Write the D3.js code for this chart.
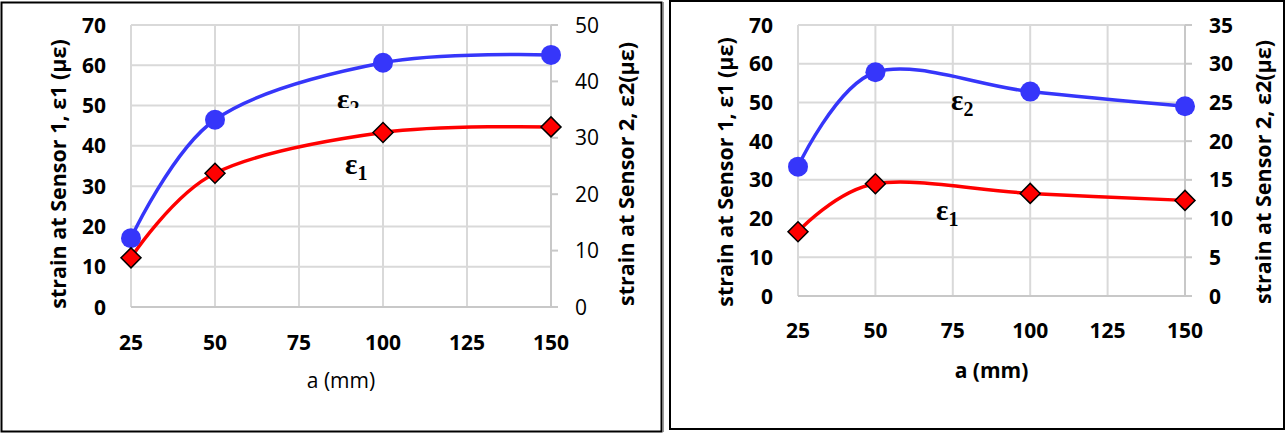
<!DOCTYPE html>
<html>
<head>
<meta charset="utf-8">
<script src="https://cdn.jsdelivr.net/npm/d3@7"></script>
<style>
  body { margin: 0; background: #fff; }
  svg { display: block; }
  .tick-label { font-family: "Open Sans", sans-serif; font-size: 21px; fill: #000; }
  .axis-title { font-family: "Open Sans", sans-serif; font-size: 21.5px; fill: #000; }
  .eps { font-family: "Liberation Serif", "DejaVu Serif", serif; fill: #000; font-weight: bold; }
</style>
</head>
<body>
<svg id="chart" width="1286" height="433"></svg>
<script>
// x positions (mm) shared by both charts
const aValues = [25, 50, 100, 150];
const xTickValues = [25, 50, 75, 100, 125, 150];

// left chart
const leftEps1 = [12.2, 33.2, 43.3, 44.7];
const leftEps2 = [12.2, 33.2, 43.3, 44.7];
const leftY1Ticks = [0, 10, 20, 30, 40, 50, 60, 70];
const leftY2Ticks = [0, 10, 20, 30, 40, 50];

// right chart
const rightEps1 = [16.6, 29.0, 26.5, 24.7];
const rightEps2 = [16.7, 28.9, 26.4, 24.5];
const rightY1Ticks = [0, 10, 20, 30, 40, 50, 60, 70];
const rightY2Ticks = [0, 5, 10, 15, 20, 25, 30, 35];

const y1Title = "strain at Sensor 1, ε1 (με)";
const y2Title = "strain at Sensor 2, ε2(με)";
const xTitle = "a (mm)";

const blue = "#3636fa";
const red = "#ff0000";
const gridColor = "#d9d9d9";

const svg = d3.select("#chart");

// panel frames
svg.append("rect").attr("x", 1.5).attr("y", 2.5).attr("width", 660).attr("height", 429)
  .attr("fill", "none").attr("stroke", "#000").attr("stroke-width", 2);
svg.append("line").attr("x1", 663.5).attr("x2", 663.5).attr("y1", 2).attr("y2", 432)
  .attr("stroke", "#999").attr("stroke-width", 1);
svg.append("rect").attr("x", 670).attr("y", 1).attr("width", 614).attr("height", 428)
  .attr("fill", "none").attr("stroke", "#000").attr("stroke-width", 2);

function drawChart(cfg) {
  const g = svg.append("g");

  const x = d3.scaleLinear().domain([25, 150]).range([cfg.left, cfg.right]);
  const y1 = d3.scaleLinear().domain([0, d3.max(cfg.y1Ticks)]).range([cfg.bottom, cfg.top]);
  const y2 = d3.scaleLinear().domain([0, d3.max(cfg.y2Ticks)]).range([cfg.bottom, cfg.top]);

  // gridlines
  g.selectAll(".hgrid").data(cfg.y1Ticks).enter().append("line")
    .attr("x1", cfg.left).attr("x2", cfg.right)
    .attr("y1", d => y1(d)).attr("y2", d => y1(d))
    .attr("stroke", gridColor).attr("stroke-width", 2);
  g.selectAll(".vgrid").data(xTickValues).enter().append("line")
    .attr("x1", d => x(d)).attr("x2", d => x(d))
    .attr("y1", cfg.top).attr("y2", cfg.bottom)
    .attr("stroke", gridColor).attr("stroke-width", 2);

  // right axis line + outward ticks
  g.append("line").attr("x1", cfg.right).attr("x2", cfg.right)
    .attr("y1", cfg.top).attr("y2", cfg.bottom)
    .attr("stroke", "#c8c8c8").attr("stroke-width", 2);
  g.selectAll(".rtick").data(cfg.y2Ticks).enter().append("line")
    .attr("x1", cfg.right).attr("x2", cfg.right + 7)
    .attr("y1", d => y2(d)).attr("y2", d => y2(d))
    .attr("stroke", "#c8c8c8").attr("stroke-width", 2);
  g.append("line").attr("x1", cfg.left).attr("x2", cfg.right)
    .attr("y1", cfg.bottom).attr("y2", cfg.bottom)
    .attr("stroke", "#c8c8c8").attr("stroke-width", 2);

  // tick labels
  g.selectAll(".l1").data(cfg.y1Ticks).enter().append("text")
    .attr("class", "tick-label")
    .attr("x", cfg.left - 25).attr("y", d => y1(d))
    .attr("dy", "0.36em").attr("text-anchor", "end")
    .style("font-weight", "bold")
    .text(d => d);
  g.selectAll(".l2").data(cfg.y2Ticks).enter().append("text")
    .attr("class", "tick-label")
    .attr("x", cfg.right + 24).attr("y", d => y2(d))
    .attr("dy", "0.36em").attr("text-anchor", "start")
    .style("font-weight", cfg.rightBold ? "bold" : "normal")
    .text(d => d);
  g.selectAll(".lx").data(xTickValues).enter().append("text")
    .attr("class", "tick-label")
    .attr("x", d => x(d)).attr("y", cfg.bottom + cfg.xLabelOffset)
    .attr("dy", "0.36em").attr("text-anchor", "middle")
    .style("font-weight", "bold")
    .text(d => d);

  // axis titles
  g.append("text").attr("class", "axis-title")
    .attr("transform", `translate(${cfg.y1TitleX},${cfg.titleY}) rotate(-90)`)
    .attr("text-anchor", "middle").attr("dy", "0.35em")
    .style("font-weight", "bold").text(y1Title);
  g.append("text").attr("class", "axis-title")
    .attr("transform", `translate(${cfg.y2TitleX},${cfg.titleY}) rotate(-90)`)
    .attr("text-anchor", "middle").attr("dy", "0.35em")
    .style("font-weight", "bold").text(y2Title);
  g.append("text").attr("class", "axis-title")
    .attr("x", (cfg.left + cfg.right) / 2).attr("y", cfg.xTitleY)
    .attr("text-anchor", "middle").attr("dy", "0.35em")
    .style("font-size", "21px")
    .style("font-weight", cfg.xTitleBold ? "bold" : "normal")
    .text(xTitle);

  const line = d3.line().curve(d3.curveCardinal.tension(0));

  const pts1 = aValues.map((a, i) => [x(a), y1(cfg.eps1[i])]);
  const pts2 = aValues.map((a, i) => [x(a), y2(cfg.eps2[i])]);

  g.append("path").attr("d", line(pts2))
    .attr("fill", "none").attr("stroke", blue).attr("stroke-width", 3.5);
  g.append("path").attr("d", line(pts1))
    .attr("fill", "none").attr("stroke", red).attr("stroke-width", 3.5);

  g.selectAll(".c").data(pts2).enter().append("circle")
    .attr("cx", d => d[0]).attr("cy", d => d[1]).attr("r", 10)
    .attr("fill", blue);

  const diamond = d3.symbol().type(d3.symbolSquare).size(200);
  g.selectAll(".dm").data(pts1).enter().append("path")
    .attr("d", diamond)
    .attr("transform", d => `translate(${d[0]},${d[1]}) rotate(45)`)
    .attr("fill", red).attr("stroke", "#000").attr("stroke-width", 1.5);

  // ε labels
  cfg.epsLabels.forEach(lb => {
    const t = g.append("text").attr("class", "eps")
      .attr("x", lb.x).attr("y", lb.y)
      .style("font-size", "29px");
    t.append("tspan").text("ε");
    t.append("tspan").attr("dy", 6).style("font-size", "20px").text(lb.sub);
    if (lb.clipY) {
      const id = "clip" + Math.round(lb.x);
      svg.append("clipPath").attr("id", id).append("rect")
        .attr("x", lb.x - 5).attr("y", lb.y - 40).attr("width", 50).attr("height", 40 + (lb.clipY - lb.y));
      t.attr("clip-path", `url(#${id})`);
    }
  });
}

drawChart({
  left: 131, right: 551, top: 25, bottom: 307,
  y1Ticks: leftY1Ticks, y2Ticks: leftY2Ticks,
  eps1: leftEps1, eps2: leftEps2,
  rightBold: false, xTitleBold: false,
  xLabelOffset: 35, xTitleY: 381,
  y1TitleX: 58, y2TitleX: 626, titleY: 174,
  epsLabels: [{ x: 337, y: 109, sub: "2", clipY: 108 }, { x: 345, y: 174, sub: "1" }]
});

drawChart({
  left: 798, right: 1185, top: 25, bottom: 296,
  y1Ticks: rightY1Ticks, y2Ticks: rightY2Ticks,
  eps1: rightEps1, eps2: rightEps2,
  rightBold: true, xTitleBold: true,
  xLabelOffset: 34, xTitleY: 371,
  y1TitleX: 725, y2TitleX: 1263, titleY: 172,
  epsLabels: [{ x: 951, y: 110, sub: "2" }, { x: 936, y: 220, sub: "1" }]
});
</script>
</body>
</html>
